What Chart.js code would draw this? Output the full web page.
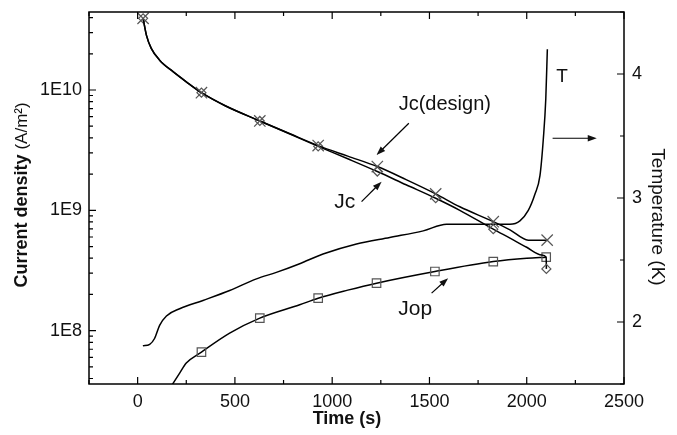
<!DOCTYPE html>
<html>
<head>
<meta charset="utf-8">
<script src="https://cdn.jsdelivr.net/npm/chart.js@4.4.0/dist/chart.umd.min.js"></script>
<style>
  html, body { margin: 0; padding: 0; background: #fff; }
  #wrap { width: 677px; height: 435px; }
</style>
</head>
<body>
<div id="wrap"><canvas id="jcChart" width="677" height="435"></canvas></div>
<script>
// Jc(design): time (s) / current density (A/m2), x markers every ~300 s
const designTime = [28, 45, 70, 113, 182, 250, 328, 450, 628, 780, 928, 1080, 1232, 1380, 1532, 1656, 1828, 1914, 2008, 2105];
const designJc = [3.94e10, 2.86e10, 2.22e10, 1.77e10, 1.42e10, 1.17e10, 9.5e9, 7.4e9, 5.53e9, 4.35e9, 3.45e9, 2.82e9, 2.31e9, 1.8e9, 1.37e9, 1.07e9, 8.05e8, 6.88e8, 5.65e8, 5.65e8];
const designMarks = [28, 328, 628, 928, 1232, 1532, 1828, 2105];

// Jc (diamonds)
const jcTime = [28, 45, 70, 113, 182, 250, 328, 450, 628, 780, 928, 1080, 1232, 1380, 1532, 1656, 1828, 1914, 2000, 2077, 2100, 2101];
const jcValue = [3.94e10, 2.86e10, 2.22e10, 1.77e10, 1.42e10, 1.17e10, 9.5e9, 7.4e9, 5.53e9, 4.33e9, 3.4e9, 2.68e9, 2.1e9, 1.63e9, 1.26e9, 1.0e9, 6.97e8, 5.87e8, 4.93e8, 4.26e8, 4.08e8, 3.26e8];
const jcMarks = [28, 328, 628, 928, 1232, 1532, 1828, 2101];

// Jop (squares)
const jopTime = [175, 216, 250, 328, 473, 628, 833, 928, 1080, 1228, 1528, 1828, 2000, 2100];
const jopValue = [3.5e7, 4.43e7, 5.37e7, 6.63e7, 9.53e7, 1.27e8, 1.64e8, 1.86e8, 2.17e8, 2.48e8, 3.1e8, 3.75e8, 4.0e8, 4.08e8];
const jopMarks = [328, 628, 928, 1228, 1528, 1828, 2100];

// temperature T (K), right axis
const tempTime = [27, 62, 87, 113, 148, 216, 336, 473, 611, 713, 833, 953, 1125, 1296, 1468, 1588, 1914, 1965, 2008, 2042, 2068, 2085, 2098, 2106];
const tempValue = [1.808, 1.82, 1.867, 1.973, 2.049, 2.107, 2.174, 2.254, 2.348, 2.40, 2.47, 2.548, 2.629, 2.682, 2.735, 2.789, 2.789, 2.816, 2.90, 3.03, 3.18, 3.47, 3.8, 4.2];

// axis labels
const timeLabels = [0, 500, 1000, 1500, 2000, 2500];
const tempLabels = [2, 3, 4];

const FONT = '"Liberation Sans", Arial, Helvetica, sans-serif';
const INK = '#111';

// text notes and arrows, placed in data units (time, current density)
const notes = [
  { text: 'Jc(design)', t: 1579, j: 6.82e9, size: 20 },
  { text: 'Jc', t: 1065, j: 1.04e9, size: 21 },
  { text: 'Jop', t: 1427, j: 1.35e8, size: 21 },
  { text: 'T', t: 2181, j: 1.17e10, size: 19 }
];
const arrows = [
  { from: [1394, 5.29e9], to: [1228, 2.88e9] },
  { from: [1151, 1.18e9], to: [1254, 1.73e9] },
  { from: [2133, 3.97e9], to: [2360, 3.97e9] },
  { from: [1511, 2.05e8], to: [1596, 2.73e8] }
];

function lineSet(times, values, marks, style, radius, axis) {
  return {
    data: times.map((t, i) => ({ x: t, y: values[i] })),
    yAxisID: axis,
    borderColor: '#000',
    borderWidth: 1.5,
    fill: false,
    cubicInterpolationMode: 'monotone',
    pointStyle: style,
    pointRadius: ctx => marks.includes(times[ctx.dataIndex]) ? radius : 0,
    pointBorderColor: '#555',
    pointBorderWidth: 1.2,
    pointBackgroundColor: 'transparent'
  };
}

function drawArrow(ctx, x0, y0, x1, y1) {
  const ang = Math.atan2(y1 - y0, x1 - x0);
  const head = 9, half = 3.2;
  const c = Math.cos(ang), s = Math.sin(ang);
  ctx.beginPath();
  ctx.moveTo(x0, y0);
  ctx.lineTo(x1 - c * head * 0.8, y1 - s * head * 0.8);
  ctx.stroke();
  ctx.beginPath();
  ctx.moveTo(x1, y1);
  ctx.lineTo(x1 - head * c + half * s, y1 - head * s - half * c);
  ctx.lineTo(x1 - head * c - half * s, y1 - head * s + half * c);
  ctx.closePath();
  ctx.fill();
}

const isPow10 = v => Math.abs(Math.log10(v) - Math.round(Math.log10(v))) < 1e-6;

const frameAndNotes = {
  id: 'frameAndNotes',
  afterDraw(chart) {
    const { ctx, chartArea: a, scales: { x, y, y1 } } = chart;
    ctx.save();
    ctx.strokeStyle = '#000';
    ctx.fillStyle = INK;

    // frame
    ctx.lineWidth = 1.5;
    ctx.strokeRect(a.left, a.top, a.right - a.left, a.bottom - a.top);

    // inward ticks
    ctx.lineWidth = 1.2;
    ctx.beginPath();
    x.ticks.forEach(tk => {
      const px = x.getPixelForValue(tk.value);
      const len = tk.value % 500 === 0 ? 7 : 4;
      ctx.moveTo(px, a.bottom); ctx.lineTo(px, a.bottom - len);
      ctx.moveTo(px, a.top); ctx.lineTo(px, a.top + len);
    });
    for (let e = 7; e <= 10; e++) {
      for (let k = 1; k <= 9; k++) {
        const v = k * Math.pow(10, e);
        if (v < y.min || v > y.max) continue;
        const py = y.getPixelForValue(v);
        const len = k === 1 ? 7 : 4;
        ctx.moveTo(a.left, py); ctx.lineTo(a.left + len, py);
      }
    }
    y1.ticks.forEach(tk => {
      const py = y1.getPixelForValue(tk.value);
      const len = Number.isInteger(tk.value) ? 7 : 4;
      ctx.moveTo(a.right, py); ctx.lineTo(a.right - len, py);
    });
    ctx.stroke();

    // arrows
    ctx.lineWidth = 1.2;
    arrows.forEach(ar => {
      drawArrow(ctx,
        x.getPixelForValue(ar.from[0]), y.getPixelForValue(ar.from[1]),
        x.getPixelForValue(ar.to[0]), y.getPixelForValue(ar.to[1]));
    });

    // notes
    ctx.textAlign = 'center';
    ctx.textBaseline = 'alphabetic';
    notes.forEach(n => {
      ctx.font = n.size + 'px ' + FONT;
      ctx.fillText(n.text, x.getPixelForValue(n.t), y.getPixelForValue(n.j));
    });

    // axis titles
    ctx.font = 'bold 18px ' + FONT;
    ctx.fillText('Time (s)', 347, 424);

    ctx.save();
    ctx.translate(22, 195);
    ctx.rotate(-Math.PI / 2);
    ctx.textBaseline = 'middle';
    ctx.textAlign = 'left';
    ctx.font = 'bold 18px ' + FONT;
    const w1 = ctx.measureText('Current density ').width;
    ctx.font = '17px ' + FONT;
    const w2 = ctx.measureText('(A/m²)').width;
    const x0 = -(w1 + w2) / 2;
    ctx.font = 'bold 18px ' + FONT;
    ctx.fillText('Current density ', x0, 0);
    ctx.font = '17px ' + FONT;
    ctx.fillText('(A/m²)', x0 + w1, 0);
    ctx.restore();

    ctx.save();
    ctx.translate(657, 217);
    ctx.rotate(Math.PI / 2);
    ctx.textBaseline = 'middle';
    ctx.textAlign = 'center';
    ctx.font = '19px ' + FONT;
    ctx.fillText('Temperature (K)', 0, 0);
    ctx.restore();

    ctx.restore();
  }
};

const tickFont = { family: FONT, size: 18 };
const noGrid = { display: false, drawTicks: false };

new Chart(document.getElementById('jcChart'), {
  type: 'line',
  data: {
    datasets: [
      lineSet(designTime, designJc, designMarks, 'crossRot', 8, 'y'),
      lineSet(jcTime, jcValue, jcMarks, 'rectRot', 4.5, 'y'),
      lineSet(jopTime, jopValue, jopMarks, 'rect', 6, 'y'),
      lineSet(tempTime, tempValue, [], 'circle', 0, 'y1')
    ]
  },
  options: {
    responsive: false,
    animation: false,
    layout: { padding: { top: 12, left: 0, right: 0, bottom: 0 } },
    plugins: { legend: { display: false }, tooltip: { enabled: false } },
    scales: {
      x: {
        type: 'linear',
        min: -250,
        max: 2500,
        grid: noGrid,
        border: { display: false },
        ticks: {
          stepSize: 250,
          autoSkip: false,
          maxRotation: 0,
          padding: 7,
          color: INK,
          font: tickFont,
          callback: v => timeLabels.includes(v) ? String(v) : ''
        },
        afterFit: s => { s.height = 51; s.paddingLeft = 0; s.paddingRight = 0; }
      },
      y: {
        type: 'logarithmic',
        position: 'left',
        min: 3.6e7,
        max: 4.45e10,
        grid: noGrid,
        border: { display: false },
        ticks: {
          autoSkip: false,
          padding: 7,
          color: INK,
          font: tickFont,
          callback: v => isPow10(v) ? '1E' + Math.round(Math.log10(v)) : ''
        },
        afterFit: s => { s.width = 89; s.paddingTop = 0; s.paddingBottom = 0; }
      },
      y1: {
        type: 'linear',
        position: 'right',
        min: 1.5,
        max: 4.5,
        grid: noGrid,
        border: { display: false },
        ticks: {
          stepSize: 0.5,
          autoSkip: false,
          padding: 8,
          color: INK,
          font: tickFont,
          callback: v => tempLabels.includes(v) ? String(v) : ''
        },
        afterFit: s => { s.width = 53; s.paddingTop = 0; s.paddingBottom = 0; }
      }
    }
  },
  plugins: [frameAndNotes]
});
</script>
</body>
</html>
